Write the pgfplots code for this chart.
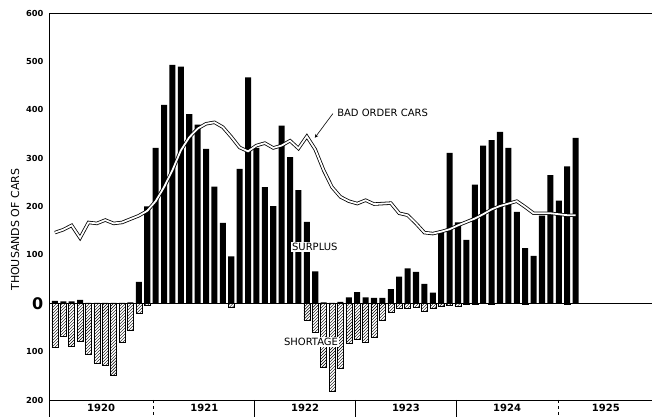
\documentclass[border=0pt]{standalone}
\usepackage{fontspec}
\setmainfont{DejaVu Sans}
\usepackage{pgfplots}
\pgfplotsset{compat=1.18}
\usetikzlibrary{patterns}
\begin{document}
\begin{tikzpicture}
\begin{axis}[
  name=ax,
  scale only axis, width=603bp, height=387bp,
  xmin=-0.7, xmax=71.1, ymin=-200, ymax=600,
  axis x line=box, axis y line=left,
  axis line style={-, black, line width=0.8bp},
  y axis line style={-},
  clip=false,
  ytick={-200,-100,0,100,200,300,400,500,600},
  yticklabels={200,100,{\fontsize{16bp}{16bp}\selectfont 0},100,200,300,400,500,600},
  y tick label style={font=\fontsize{8.3bp}{9bp}\selectfont\bfseries},
  /pgf/number format/assume math mode=true,
  ytick pos=left,
  ytick style={draw=none},
  xtick={5.5,17.8,29.8,41.8,53.85,65.6},
  xticklabels={1920,1921,1922,1923,1924,1925},
  xtick pos=bottom,
  xtick style={draw=none},
  x tick label style={font=\fontsize{10bp}{12bp}\selectfont\bfseries, yshift=-0.5bp},
  ylabel={THOUSANDS OF CARS},
  ylabel style={font=\fontsize{11bp}{13bp}\selectfont, at={(ticklabel cs:0.44)}},
]
% surplus (black bars)
\addplot[ybar, bar width=0.72, bar shift=0pt, fill=black, draw=none] coordinates {
(0,5)(1,4)(2,4)(3,7)(4,1)(5,1)(6,1)(7,1)(8,1)(9,2)(10,44)(11,200)
(12,321)(13,410)(14,493)(15,489)(16,391)(17,369)(18,319)(19,241)(20,166)(21,97)(22,278)(23,467)
(24,321)(25,240)(26,201)(27,367)(28,302)(29,234)(30,168)(31,66)(32,2)(33,1)(34,3)(35,12)
(36,23)(37,12)(38,11)(39,11)(40,29)(41,55)(42,72)(43,65)(44,40)(45,22)(46,148)(47,311)
(48,167)(49,131)(50,245)(51,326)(52,337)(53,354)(54,321)(55,189)(56,114)(57,98)(58,181)(59,265)
(60,212)(61,283)(62,342)
};
% shortage (hatched bars)
\addplot[ybar, bar width=0.72, bar shift=0pt, draw=black, line width=0.4bp, fill=white, postaction={pattern=north east lines}] coordinates {
(0,-91)(1,-69)(2,-88)(3,-78)(4,-105)(5,-123)(6,-128)(7,-148)(8,-81)(9,-56)(10,-21)(11,-4)
(21,-8)
(30,-35)(31,-59)(32,-133)(33,-181)(34,-135)(35,-82)
(36,-75)(37,-81)(38,-71)(39,-36)(40,-18)(41,-11)(42,-11)(43,-8)(44,-16)(45,-11)(46,-6)(47,-4)
(48,-7)(49,-3)(50,-3)(52,-2)(56,-2)(61,-2)
};
% bad order cars
\addplot[black, line width=0.8bp, double=white, double distance=1.8bp, mark=none] coordinates {
(0,146)(1,152)(2,161)(3,135)(4,167)(5,165)(6,172)(7,165)(8,167)(9,174)(10,181)(11,191)
(12,211)(13,240)(14,275)(15,316)(16,343)(17,361)(18,371)(19,374)(20,364)(21,344)(22,322)(23,314)
(24,326)(25,331)(26,321)(27,326)(28,336)(29,320)(30,345)(31,318)(32,275)(33,240)(34,220)(35,211)
(36,206)(37,213)(38,205)(39,206)(40,207)(41,186)(42,182)(43,165)(44,146)(45,144)(46,148)(47,153)
(48,161)(49,168)(50,175)(51,184)(52,194)(53,201)(54,206)(55,211)(56,199)(57,186)(58,186)(59,186)
(60,184)(61,182)(62,182)
};
% zero line
\draw[line width=1bp] (axis cs:-0.7,0) -- (axis cs:71.1,0);
% year dividers
\draw[line width=0.8bp] (axis cs:-0.7,-200) -- ++(0bp,-17bp);
\draw[line width=0.8bp, dashed] (axis cs:11.75,-200) -- ++(0bp,-17bp);
\draw[line width=0.8bp] (axis cs:23.8,-200) -- ++(0bp,-17bp);
\draw[line width=0.8bp] (axis cs:35.8,-200) -- ++(0bp,-17bp);
\draw[line width=0.8bp] (axis cs:47.8,-200) -- ++(0bp,-17bp);
\draw[line width=0.8bp, dashed] (axis cs:59.9,-200) -- ++(0bp,-17bp);
% labels
\node[anchor=west, font=\fontsize{10bp}{12bp}\selectfont, inner sep=0pt] at (axis cs:33.6,393) {BAD ORDER CARS};
\draw[-stealth, line width=0.6bp] (axis cs:33.1,392) -- (axis cs:30.95,342);
\node[fill=white, inner sep=1bp, font=\fontsize{10bp}{12bp}\selectfont] at (axis cs:30.95,116) {SURPLUS};
\node[fill=white, inner sep=1bp, font=\fontsize{10bp}{12bp}\selectfont] at (axis cs:30.5,-80) {SHORTAGE};
\end{axis}
\pgfresetboundingbox
\path[use as bounding box] ([xshift=-49bp,yshift=-17bp]ax.south west) rectangle ([yshift=13bp]ax.north east);
\end{tikzpicture}
\end{document}
